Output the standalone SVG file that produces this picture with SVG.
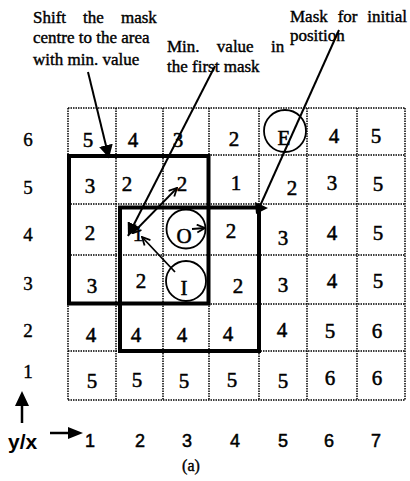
<svg xmlns="http://www.w3.org/2000/svg" width="410" height="481" viewBox="0 0 410 481">
<style>
.grid line{stroke:#000;stroke-width:1.5;stroke-dasharray:1.5 1}
.mask{fill:none;stroke:#000;stroke-width:4}
.cell{font-family:"Liberation Serif","Times New Roman",serif;font-size:21px;text-anchor:middle;fill:#000;stroke:#000;stroke-width:0.5}
.lab{font-family:"Liberation Serif","Times New Roman",serif;font-size:19px;text-anchor:middle;fill:#000;stroke:#000;stroke-width:0.4}
.ax{font-family:"Liberation Sans",Arial,sans-serif;font-size:18px;text-anchor:middle;fill:#000;stroke:#000;stroke-width:0.5}
.note{font-family:"Liberation Serif","Times New Roman",serif;font-size:17px;fill:#000;stroke:#000;stroke-width:0.4}
.ring{fill:none;stroke:#000;stroke-width:1.8}
.lead{stroke:#000;stroke-width:2;fill:none}
.thin{stroke:#000;stroke-width:1.8;fill:none}
</style>
<defs>
<marker id="solid" markerUnits="userSpaceOnUse" markerWidth="14" markerHeight="14" refX="13" refY="7" orient="auto">
<path d="M0,0 L13,7 L0,14 z" fill="#000"/>
</marker>
<marker id="open" markerUnits="userSpaceOnUse" markerWidth="10" markerHeight="10" refX="9" refY="5" orient="auto-start-reverse">
<path d="M1,1 L9,5 L1,9" fill="none" stroke="#000" stroke-width="1.8"/>
</marker>
</defs>
<rect width="410" height="481" fill="#fff"/>

<g id="grid" class="grid">
<line x1="68" y1="108" x2="68" y2="400"/>
<line x1="116" y1="108" x2="116" y2="400"/>
<line x1="163" y1="108" x2="163" y2="400"/>
<line x1="209" y1="108" x2="209" y2="400"/>
<line x1="259" y1="108" x2="259" y2="400"/>
<line x1="307" y1="108" x2="307" y2="400"/>
<line x1="357" y1="108" x2="357" y2="400"/>
<line x1="405" y1="108" x2="405" y2="400"/>
<line x1="68" y1="108" x2="405" y2="108"/>
<line x1="68" y1="155" x2="405" y2="155"/>
<line x1="68" y1="204" x2="405" y2="204"/>
<line x1="68" y1="255" x2="405" y2="255"/>
<line x1="68" y1="304" x2="405" y2="304"/>
<line x1="68" y1="351" x2="405" y2="351"/>
<line x1="68" y1="400" x2="405" y2="400"/>
</g>

<g id="mask-shifted"><rect class="mask" x="69" y="156" width="139.5" height="147.5"/></g>
<g id="mask-initial"><rect class="mask" x="120" y="207.5" width="139" height="143.5"/></g>

<g id="row6">
<text class="cell" x="88" y="147">5</text>
<text class="cell" x="133" y="147">4</text>
<text class="cell" x="178" y="147">3</text>
<text class="cell" x="234" y="146">2</text>
<text class="cell" x="334" y="143">4</text>
<text class="cell" x="376" y="143">5</text>
</g>
<g id="node-E"><circle class="ring" cx="285" cy="131" r="21"/><text class="cell" x="284" y="145">E</text></g>
<g id="row5">
<text class="cell" x="90" y="193">3</text>
<text class="cell" x="127" y="191">2</text>
<text class="cell" x="182" y="191">2</text>
<text class="cell" x="236" y="190">1</text>
<text class="cell" x="292" y="195">2</text>
<text class="cell" x="332" y="190">3</text>
<text class="cell" x="378" y="191">5</text>
</g>
<g id="row4">
<text class="cell" x="90" y="240">2</text>
<text class="cell" x="138" y="241">1</text>
<text class="cell" x="231" y="238">2</text>
<text class="cell" x="283" y="245">3</text>
<text class="cell" x="332" y="240">4</text>
<text class="cell" x="378" y="240">5</text>
</g>
<g id="node-O"><circle class="ring" cx="186" cy="229" r="19.5"/><text class="cell" x="184" y="243">O</text></g>
<g id="row3">
<text class="cell" x="92" y="293">3</text>
<text class="cell" x="141" y="288">2</text>
<text class="cell" x="238" y="293">2</text>
<text class="cell" x="283" y="292">3</text>
<text class="cell" x="332" y="288">4</text>
<text class="cell" x="378" y="288">5</text>
</g>
<g id="node-I"><circle class="ring" cx="186" cy="281" r="20"/><text class="cell" x="184" y="295">I</text></g>
<g id="row2">
<text class="cell" x="91" y="342">4</text>
<text class="cell" x="136" y="342">4</text>
<text class="cell" x="182" y="342">4</text>
<text class="cell" x="228" y="341">4</text>
<text class="cell" x="282" y="337">4</text>
<text class="cell" x="330" y="338">5</text>
<text class="cell" x="377" y="338">6</text>
</g>
<g id="row1">
<text class="cell" x="92" y="388">5</text>
<text class="cell" x="137" y="387">5</text>
<text class="cell" x="184" y="388">5</text>
<text class="cell" x="232" y="387">5</text>
<text class="cell" x="283" y="388">5</text>
<text class="cell" x="330" y="385">6</text>
<text class="cell" x="377" y="385">6</text>
</g>

<g id="y-labels">
<text class="lab" x="28" y="146">6</text>
<text class="lab" x="28" y="194">5</text>
<text class="lab" x="28" y="241">4</text>
<text class="lab" x="28" y="290">3</text>
<text class="lab" x="28" y="337">2</text>
<text class="lab" x="28" y="378">1</text>
</g>
<g id="x-labels">
<text class="ax" x="90" y="447">1</text>
<text class="ax" x="140" y="447">2</text>
<text class="ax" x="187" y="447">3</text>
<text class="ax" x="235" y="447">4</text>
<text class="ax" x="283" y="447">5</text>
<text class="ax" x="329" y="447">6</text>
<text class="ax" x="376" y="447">7</text>
</g>
<g id="axis-name">
<text x="8" y="449" style="font-family:'Liberation Sans',Arial,sans-serif;font-size:21px;font-weight:bold">y/x</text>
<line x1="22" y1="423" x2="22" y2="404" stroke="#000" stroke-width="2.5"/>
<polygon points="15,406 22,391 29,406" fill="#000"/>
<line x1="50" y1="433" x2="70" y2="433" stroke="#000" stroke-width="2.5"/>
<polygon points="68,427 83,433 68,439" fill="#000"/>
</g>
<g id="caption"><text x="191" y="471" style="font-family:'Liberation Serif','Times New Roman',serif;font-size:16px;text-anchor:middle;stroke:#000;stroke-width:0.4">(a)</text></g>

<g id="note-shift" class="note">
<text x="33" y="23" word-spacing="12.8">Shift the mask</text>
<text x="33" y="43">centre to the area</text>
<text x="33" y="65">with min. value</text>
</g>
<g id="note-min" class="note">
<text x="167" y="52" word-spacing="13">Min. value in</text>
<text x="167" y="72">the first mask</text>
</g>
<g id="note-initial" class="note">
<text x="290" y="22" word-spacing="5.6">Mask for initial</text>
<text x="290" y="41">position</text>
</g>

<g id="connectors">
<line class="lead" x1="88" y1="72" x2="109" y2="158" marker-end="url(#solid)"/>
<line class="lead" x1="215" y1="66" x2="128" y2="236" marker-end="url(#solid)"/>
<line class="lead" x1="339" y1="30" x2="260" y2="206"/>
<polygon points="255,202 268,208 256,214" fill="#000"/>
<line class="thin" x1="133" y1="233" x2="177" y2="188" marker-start="url(#open)" marker-end="url(#open)"/>
<line class="thin" x1="175" y1="272" x2="142" y2="237" marker-end="url(#open)"/>
<line class="thin" x1="192" y1="229" x2="205" y2="228" marker-end="url(#open)"/>
</g>
</svg>
